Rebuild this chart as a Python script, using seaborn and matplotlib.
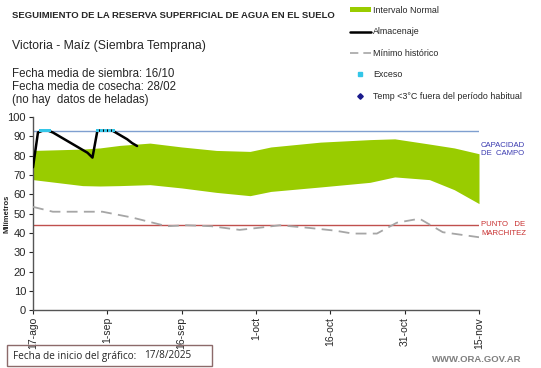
import matplotlib
matplotlib.use("Agg")
import matplotlib.pyplot as plt
import seaborn as sns
import pandas as pd
from matplotlib.patches import Patch, Rectangle
from matplotlib.lines import Line2D

# --- DATA (days since 17-ago) ---
band_days = [0, 10, 13.5, 17.5, 23.6, 30, 37, 43.8, 48, 58, 68, 73, 80, 85, 90]
band_upper = [82.7, 83.4, 84.0, 85.3, 86.5, 84.5, 82.7, 82.2, 84.5, 87.0, 88.3, 88.7, 86.0, 84.0, 81.0]
band_lower = [67.6, 64.5, 64.3, 64.5, 65.0, 63.3, 61.0, 59.3, 61.5, 63.8, 66.2, 69.0, 67.6, 62.4, 55.2]

store_days = [0, 1, 2, 3, 4, 5, 6, 7, 8, 9, 10, 11, 12, 13, 14, 15, 16, 17, 18, 19, 20, 21]
store_vals = [74, 92, 93, 93, 92, 90.5, 89, 87.5, 86, 84.5, 83, 81.5, 79, 93, 93, 93, 93,
              91.5, 90, 88.5, 86.5, 85]

excess_days = [1.6, 2.4, 3.2, 13, 13.8, 14.6, 15.4, 16.2]
excess_vals = [93, 93, 93, 93, 93, 93, 93, 93]

min_days = [0, 4, 10, 14, 20, 27, 31, 36, 41.7, 46, 49.8, 55.8, 61, 64.5, 69.4, 73.4, 78, 82.7, 90]
min_vals = [53.5, 51, 51, 51, 48, 43.5, 44, 43.5, 41.6, 42.8, 44, 42.6, 41.2, 39.7, 39.7, 45.3,
            47.4, 40.4, 37.8]

field_capacity = 93
wilting_point = 44

tick_days = [0, 15, 30, 45, 60, 75, 90]
tick_labels = ["17-ago", "1-sep", "16-sep", "1-oct", "16-oct", "31-oct", "15-nov"]

df_store = pd.DataFrame({"dia": store_days, "mm": store_vals})
df_min = pd.DataFrame({"dia": min_days, "mm": min_vals})
df_exc = pd.DataFrame({"dia": excess_days, "mm": excess_vals})

# --- STYLE ---
sns.set_style("ticks")
plt.rcParams["font.family"] = ["Liberation Sans", "DejaVu Sans"]
green = "#99cc00"
cyan = "#33c6e8"

W, H = 541, 368
fig = plt.figure(figsize=(W / 100, H / 100), dpi=100)
ax = fig.add_axes([33 / W, 1 - 310.3 / H, (479 - 33) / W, (310.3 - 117) / H])

ax.fill_between(band_days, band_lower, band_upper, color=green, lw=0, zorder=1)
ax.axhline(field_capacity, color="#7f9fd0", lw=1, zorder=2)
ax.axhline(wilting_point, color="#c0504d", lw=1, zorder=2)
sns.lineplot(data=df_min, x="dia", y="mm", ax=ax, color="#a6a6a6", lw=1.3, zorder=3)
ax.lines[-1].set_dashes([6, 3.5])
sns.lineplot(data=df_store, x="dia", y="mm", ax=ax, color="black", lw=1.8, zorder=4)
sns.scatterplot(data=df_exc, x="dia", y="mm", ax=ax, color=cyan, marker="s", s=6,
                edgecolor="none", zorder=5)

ax.set_xlim(0, 90)
ax.set_ylim(0, 100)
ax.set_xticks(tick_days)
ax.set_xticklabels(tick_labels, rotation=90, fontsize=7.5)
ax.set_yticks(range(0, 101, 10))
ax.tick_params(axis="y", labelsize=8, length=3, width=0.8, pad=2)
ax.tick_params(axis="x", length=3, width=0.8, pad=2)
ax.set_xlabel("")
ax.set_ylabel("")
sns.despine(ax=ax)
for s in ["left", "bottom"]:
    ax.spines[s].set_color("#555555")
    ax.spines[s].set_linewidth(1)

fig.text(7 / W, 1 - 214 / H, "Milímetros", fontsize=5.5, fontweight="bold",
         rotation=90, ha="center", va="center")

# labels at right
fig.text(481 / W, 1 - 149.5 / H, "CAPACIDAD\nDE  CAMPO", color="#3a3ab0", fontsize=5.6,
         va="center", ha="left", linespacing=1.3)
fig.text(481 / W, 1 - 229 / H, "PUNTO   DE\nMARCHITEZ", color="#c83030", fontsize=5.6,
         va="center", ha="left", linespacing=1.3)

# header texts
fig.text(12 / W, 1 - 15 / H, "SEGUIMIENTO DE LA RESERVA SUPERFICIAL DE AGUA EN EL SUELO",
         fontsize=6.8, fontweight="bold", va="center")
fig.text(12 / W, 1 - 46 / H, "Victoria - Maíz (Siembra Temprana)", fontsize=8.8, va="center")
fig.text(12 / W, 1 - 87 / H,
         "Fecha media de siembra: 16/10\nFecha media de cosecha: 28/02\n(no hay  datos de heladas)",
         fontsize=8.3, va="center", linespacing=1.12)

# legend
handles = [
    Patch(facecolor=green, edgecolor="none"),
    Line2D([], [], color="black", lw=1.8),
    Line2D([], [], color="#a6a6a6", lw=1.2, dashes=[5, 3]),
    Line2D([], [], color=cyan, marker="s", markersize=2.3, lw=0),
    Line2D([], [], color="#1a1a8c", marker="D", markersize=2.8, lw=0),
]
labels = ["Intervalo Normal", "Almacenaje", "Mínimo histórico", "Exceso",
          "Temp <3°C fuera del período habitual"]
fig.legend(handles, labels, loc="upper left", bbox_to_anchor=(350 / W, 1 - 6 / H),
           frameon=False, fontsize=6.4, handlelength=2.36, handleheight=0.5,
           handletextpad=0.25, labelspacing=1.4, borderaxespad=0, borderpad=0)

# footer
fig.add_artist(Rectangle((7 / W, 1 - 366 / H), 205 / W, 21 / H,
                         transform=fig.transFigure, fill=False, edgecolor="#8c6a6a", lw=1))
fig.text(13 / W, 1 - 356 / H, "Fecha de inicio del gráfico:", fontsize=7.2,
         va="center", family=["Open Sans", "DejaVu Sans"])
fig.text(144 / W, 1 - 356 / H, "17/8/2025", fontsize=7.2, va="center",
         family=["Open Sans", "DejaVu Sans"])
fig.text(521 / W, 1 - 360 / H, "WWW.ORA.GOV.AR", fontsize=6.8, fontweight="bold",
         color="#7f7f7f", ha="right", va="center")

fig.savefig("out.png", dpi=100)
